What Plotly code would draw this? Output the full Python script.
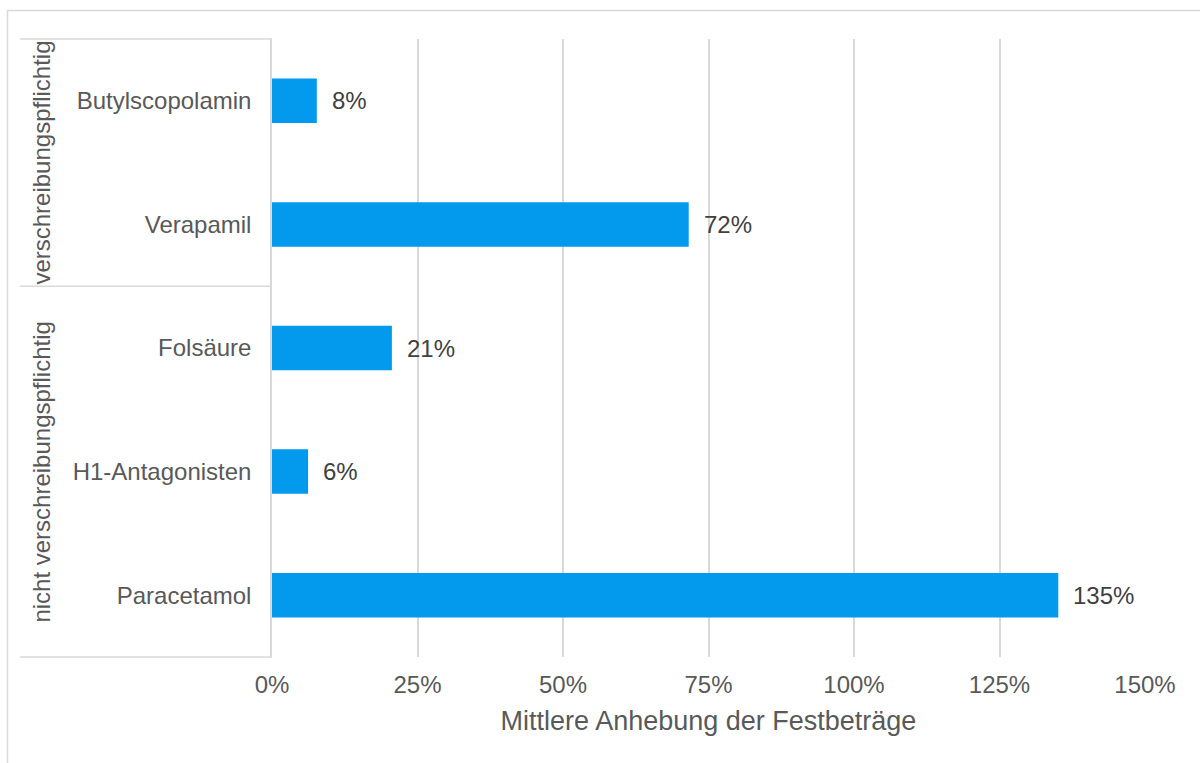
import plotly.graph_objects as go

categories = ["Butylscopolamin", "Verapamil", "Folsäure", "H1-Antagonisten", "Paracetamol"]
values = [0.077, 0.716, 0.206, 0.062, 1.351]
value_labels = ["8%", "72%", "21%", "6%", "135%"]
groups = ["verschreibungspflichtig", "nicht verschreibungspflichtig"]
group_members = [["Butylscopolamin", "Verapamil"], ["Folsäure", "H1-Antagonisten", "Paracetamol"]]
tick_vals = [0, 0.25, 0.5, 0.75, 1.0, 1.25, 1.5]
tick_text = ["0%", "25%", "50%", "75%", "100%", "125%", "150%"]
x_title = "Mittlere Anhebung der Festbeträge"

W, H = 1200, 763
L, R, T, B = 272, 1145, 39, 657
pw, ph = R - L, B - T

def px(x):
    return (x - L) / pw

def py(y):
    return (B - y) / ph

FONT = "Liberation Sans, Arial, sans-serif"
GRAY = "#595959"
LINE = "#D9D9D9"

fig = go.Figure()
fig.add_trace(go.Bar(
    y=categories, x=values, orientation="h",
    marker=dict(color="#039AEE", line=dict(width=0)),
    width=0.36, hoverinfo="skip",
))

annotations = []
for c, v, t in zip(categories, values, value_labels):
    annotations.append(dict(x=v, y=c, xref="x", yref="y", text=t, showarrow=False,
                            xanchor="left", xshift=13,
                            font=dict(family=FONT, size=24, color="#404040")))

# group labels and separator lines
n = len(categories)
slot = ph / n
shapes = []
start = 0
bounds = [T]
for g, members in zip(groups, group_members):
    y0 = T + start * slot
    y1 = T + (start + len(members)) * slot
    bounds.append(y1)
    annotations.append(dict(x=px(42), y=py((y0 + y1) / 2), xref="paper", yref="paper",
                            text=g, textangle=-90, showarrow=False,
                            xanchor="center", yanchor="middle",
                            font=dict(family=FONT, size=24, color=GRAY)))
    start += len(members)
for yb in bounds:
    shapes.append(dict(type="line", xref="paper", yref="paper",
                       x0=px(20), x1=px(272), y0=py(yb), y1=py(yb),
                       line=dict(color=LINE, width=1.5)))
# outer border
shapes.append(dict(type="rect", xref="paper", yref="paper",
                   x0=px(7.5), x1=px(1215), y0=py(10.5), y1=py(790),
                   line=dict(color=LINE, width=1.5), layer="below"))

fig.update_layout(
    width=W, height=H,
    margin=dict(l=L, r=W - R, t=T, b=H - B),
    paper_bgcolor="white", plot_bgcolor="white",
    showlegend=False,
    font=dict(family=FONT, size=24, color=GRAY),
    xaxis=dict(range=[0, 1.5], tickvals=tick_vals, ticktext=tick_text,
               showgrid=True, gridcolor=LINE, gridwidth=1.5, zeroline=False,
               showline=False, ticks="", ticklabelstandoff=11,
               tickfont=dict(family=FONT, size=24, color=GRAY),
               title=dict(text=x_title, standoff=14,
                          font=dict(family=FONT, size=27, color=GRAY)),
               fixedrange=True),
    yaxis=dict(categoryorder="array", categoryarray=categories, autorange="reversed",
               showgrid=False, zeroline=False, showline=True, linecolor=LINE, linewidth=1.5,
               ticks="", ticklabelstandoff=14,
               tickfont=dict(family=FONT, size=24, color=GRAY), fixedrange=True),
    annotations=annotations,
    shapes=shapes,
)

fig.write_html("out.html")
